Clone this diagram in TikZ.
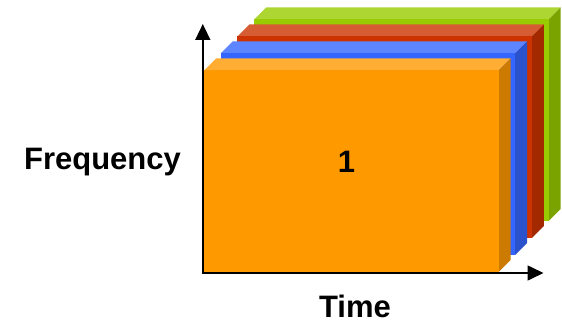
\documentclass[tikz,border=0pt]{standalone}
\usepackage{fontspec}
\setmainfont{Liberation Sans}
\usetikzlibrary{arrows.meta}
\definecolor{orF}{HTML}{FF9900}\definecolor{orT}{HTML}{FFAD33}\definecolor{orS}{HTML}{CC7A00}
\definecolor{blF}{HTML}{3366FF}\definecolor{blT}{HTML}{5C85FF}\definecolor{blS}{HTML}{2952CC}
\definecolor{rdF}{HTML}{CC3300}\definecolor{rdT}{HTML}{D65C33}\definecolor{rdS}{HTML}{A32900}
\definecolor{gnF}{HTML}{99CC00}\definecolor{gnT}{HTML}{ADD633}\definecolor{gnS}{HTML}{7AA300}
\newcommand\slabbox[3]{% #1 left, #2 top, #3 colour prefix
  \fill[#3T] (#1,#2) -- ++(12,-12) -- ++(294.5,0) -- ++(-12,12) -- cycle;
  \fill[#3S] (#1+294.5,#2) -- ++(12,-12) -- ++(0,201.5) -- ++(-12,12) -- cycle;
  \fill[#3F] (#1,#2) rectangle ++(294.5,201.5);
}
\tikzset{
  axis/.style={line width=1.6pt,-{Triangle[length=16pt,width=15pt]}},
  lbl/.style={font=\fontsize{31}{31}\selectfont\bfseries,anchor=base,inner sep=0pt}
}
\begin{document}
\begin{tikzpicture}[x=1pt,y=-1pt]
\useasboundingbox (0,0) rectangle (562,321);
\slabbox{254}{19.5}{gn}
\slabbox{237.3}{36.5}{rd}
\slabbox{220.7}{53.5}{bl}
\slabbox{204}{70.5}{or}
\coordinate (o) at (202.8,273);
\coordinate (ytip) at (202.8,24);
\coordinate (xtip) at (543.5,273);
\draw[axis] ([yshift=-0.8pt]o) -- (ytip);
\draw[axis] ([xshift=-0.8pt]o) -- (xtip);
\node[lbl] (freq) at (102.5,169) {Frequency};
\node[lbl] (one) at (346.5,172) {1};
\node[lbl] (time) at (355,317.3) {Time};
\end{tikzpicture}
\end{document}
